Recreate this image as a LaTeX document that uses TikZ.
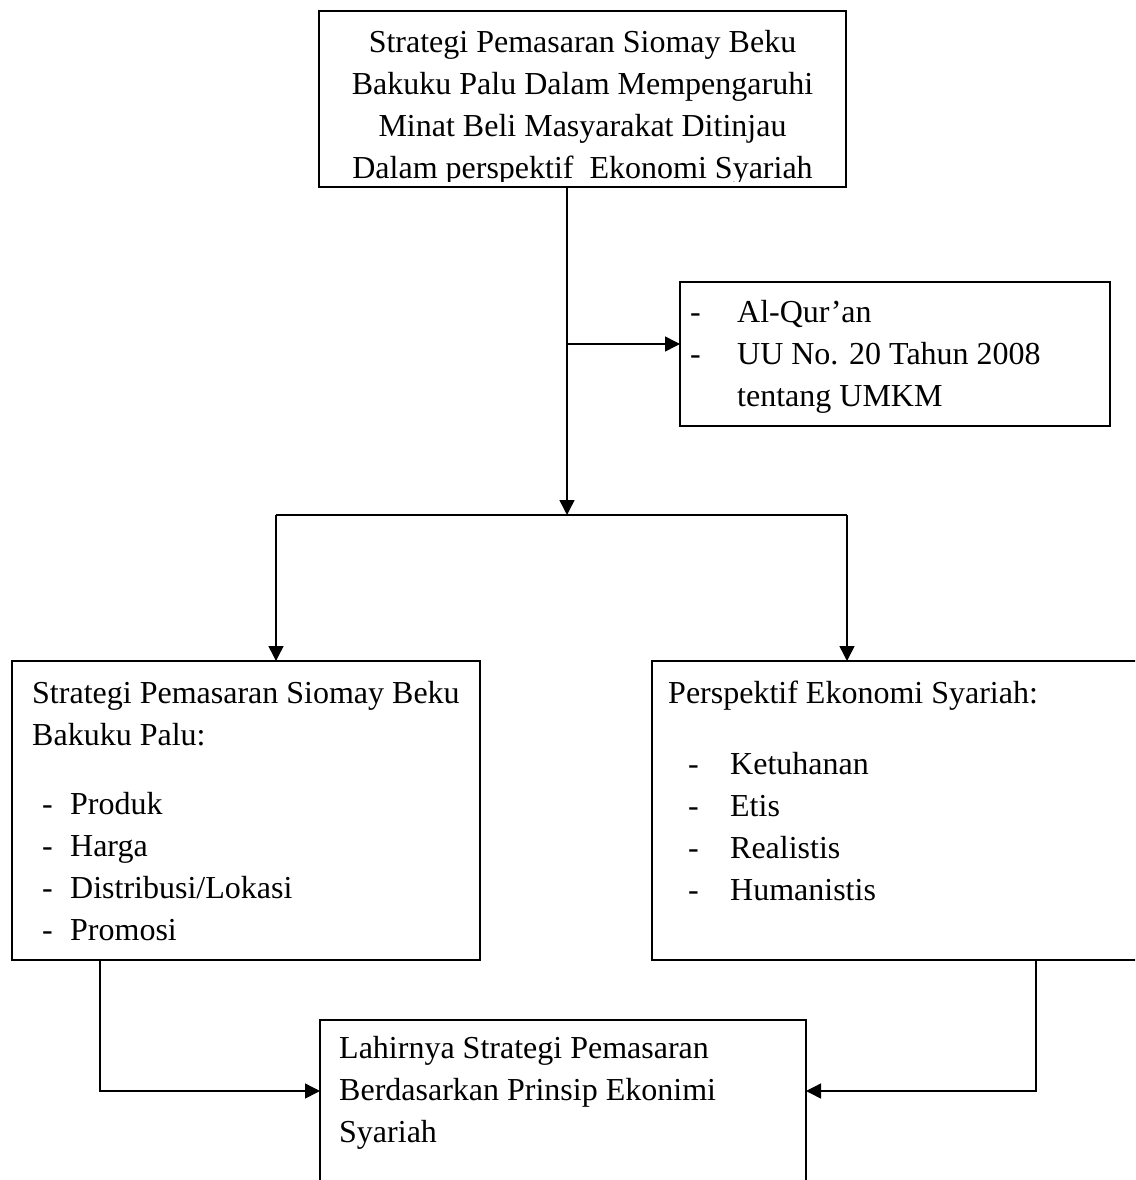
\documentclass[tikz,border=0pt]{standalone}
\usepackage{fontspec}
\setmainfont{Liberation Serif}
\usetikzlibrary{arrows.meta,calc}
\begin{document}
\begin{tikzpicture}[x=1pt,y=-1pt,
    box/.style={draw,line width=1.5pt,inner sep=0pt,outer sep=0pt,anchor=north west},
    txt/.style={inner sep=0pt,font=\fontsize{32}{42}\selectfont},
    arr/.style={line width=1.5pt,-{Triangle[length=15pt,width=15pt]}},
    line/.style={line width=1.5pt}]
    \clip (0,0) rectangle (1135,1180);

    % boxes
    \node[box,minimum width=527,minimum height=176] (title) at (319,11) {};
    \node[box,minimum width=430,minimum height=144] (law) at (680,282) {};
    \node[box,minimum width=468,minimum height=299] (strat) at (12,661) {};
    \node[box,minimum width=500,minimum height=299] (syariah) at (652,661) {};
    \node[box,minimum width=486,minimum height=200] (result) at (320,1020) {};

    % texts
    \begin{scope}
        \clip (320,12) rectangle (845,181);
        \node[txt,align=center,anchor=north] (titletext) at ($(title.north)+(0,19)$)
            {Strategi Pemasaran Siomay Beku\\Bakuku Palu Dalam Mempengaruhi\\
             Minat Beli Masyarakat Ditinjau\\Dalam perspektif\ \ Ekonomi Syariah};
    \end{scope}
    \node[txt,align=left,anchor=north west] (lawtext) at ($(law.north west)+(10,18)$)
        {\makebox[47pt][l]{-}Al-Qur’an\\\makebox[47pt][l]{-}UU No. 20 Tahun 2008\\
         \hspace*{47pt}tentang UMKM};
    \node[txt,align=left,anchor=north west] (strattext) at ($(strat.north west)+(20,20)$)
        {Strategi Pemasaran Siomay Beku\\Bakuku Palu:\\[27pt]
         \hspace*{10pt}\makebox[28pt][l]{-}Produk\\\hspace*{10pt}\makebox[28pt][l]{-}Harga\\
         \hspace*{10pt}\makebox[28pt][l]{-}Distribusi/Lokasi\\\hspace*{10pt}\makebox[28pt][l]{-}Promosi};
    \node[txt,align=left,anchor=north west] (syariahtext) at ($(syariah.north west)+(16,20)$)
        {Perspektif Ekonomi Syariah:\\[29pt]
         \hspace*{20pt}\makebox[42pt][l]{-}Ketuhanan\\\hspace*{20pt}\makebox[42pt][l]{-}Etis\\
         \hspace*{20pt}\makebox[42pt][l]{-}Realistis\\\hspace*{20pt}\makebox[42pt][l]{-}Humanistis};
    \node[txt,align=left,anchor=north west] (resulttext) at ($(result.north west)+(19,16)$)
        {Lahirnya Strategi Pemasaran\\Berdasarkan Prinsip Ekonimi\\Syariah};

    % connectors
    \coordinate (trunk) at (567,0);
    \coordinate (branch) at (567,344);
    \coordinate (split) at (567,515);
    \coordinate (splitL) at (276,515);
    \coordinate (splitR) at (847,515);
    \coordinate (joinL) at (100,1091);
    \coordinate (joinR) at (1036,1091);
    \draw[arr] (trunk |- title.south) -- (split);
    \draw[arr] (branch) -- (branch -| law.west);
    \draw[line] (splitL) -- (splitR);
    \draw[arr] (splitL) -- (splitL |- strat.north);
    \draw[arr] (splitR) -- (splitR |- syariah.north);
    \draw[arr] (joinL |- strat.south) |- (result.west |- joinL);
    \draw[arr] (joinR |- syariah.south) |- (result.east |- joinR);
\end{tikzpicture}
\end{document}
